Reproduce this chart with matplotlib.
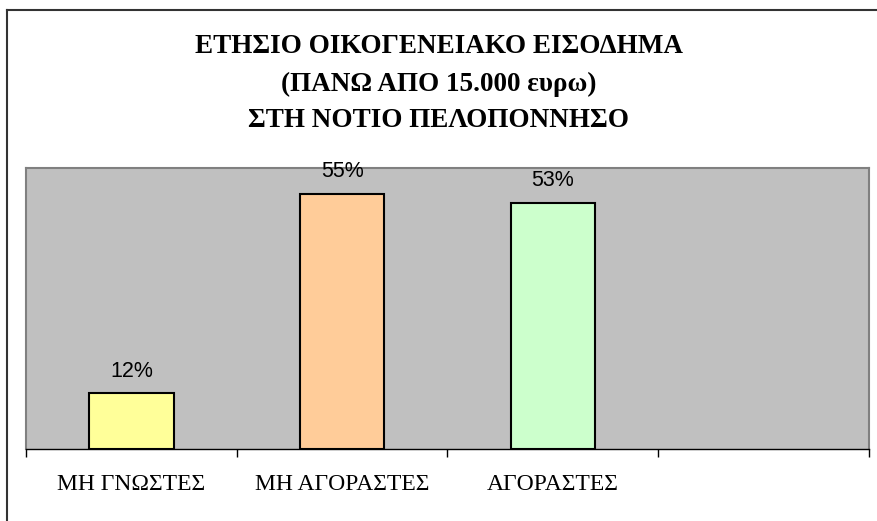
import numpy as np
import matplotlib.pyplot as plt
from matplotlib.lines import Line2D

# Δεδομένα
categories = ['ΜΗ ΓΝΩΣΤΕΣ', 'ΜΗ ΑΓΟΡΑΣΤΕΣ', 'ΑΓΟΡΑΣΤΕΣ']
values = [0.12, 0.55, 0.53]
labels = ['12%', '55%', '53%']
colors = ['#FFFF99', '#FFCC99', '#CCFFCC']
title_lines = ['ΕΤΗΣΙΟ ΟΙΚΟΓΕΝΕΙΑΚΟ ΕΙΣΟΔΗΜΑ', '(ΠΑΝΩ ΑΠΟ 15.000 ευρω)', 'ΣΤΗ ΝΟΤΙΟ ΠΕΛΟΠΟΝΝΗΣΟ']
n_slots = 4

fig = plt.figure(figsize=(8.78, 5.21), dpi=100)
ax = fig.add_axes([26 / 878, 72 / 521, 843 / 878, 281 / 521])
ax.set_facecolor('#C0C0C0')

x = np.arange(len(categories))
ax.bar(x, values, width=0.4, color=colors, edgecolor='black', linewidth=1.5, zorder=3)
for xi, v, lab in zip(x, values, labels):
    ax.annotate(lab, (xi, v), xytext=(0, 12), textcoords='offset points',
                ha='center', va='baseline', fontsize=15.5, family='Liberation Sans',
                annotation_clip=False, zorder=5)

ax.set_xlim(-0.5, n_slots - 0.5)
ax.set_ylim(0, 0.605)
ax.set_yticks([])
ax.set_xticks(x)
ax.set_xticklabels(categories, family='Liberation Serif', fontsize=17)
ax.tick_params(axis='x', which='major', length=0, pad=18)
ax.set_xticks(np.arange(-0.5, n_slots), minor=True)
ax.tick_params(axis='x', which='minor', length=6, width=1, color='black', direction='out')

for side in ['top', 'left', 'right']:
    ax.spines[side].set_color('#808080')
    ax.spines[side].set_linewidth(1.5)
ax.spines['bottom'].set_color('black')
ax.spines['bottom'].set_linewidth(1)

# τίτλος σε τρεις γραμμές
for yb, line in zip([53, 91, 127], title_lines):
    fig.text(0.5, 1 - yb / 521, line, ha='center', va='baseline', fontsize=19.5,
             fontweight='bold', family='Liberation Serif')

# εξωτερικό πλαίσιο (αριστερά και πάνω)
fig.add_artist(Line2D([7 / 878, 7 / 878], [0, 1 - 10 / 521], transform=fig.transFigure,
                      color='#333333', linewidth=1.5))
fig.add_artist(Line2D([7 / 878, 1], [1 - 10 / 521, 1 - 10 / 521], transform=fig.transFigure,
                      color='#333333', linewidth=1.5))

fig.savefig('out.png', dpi=100)
